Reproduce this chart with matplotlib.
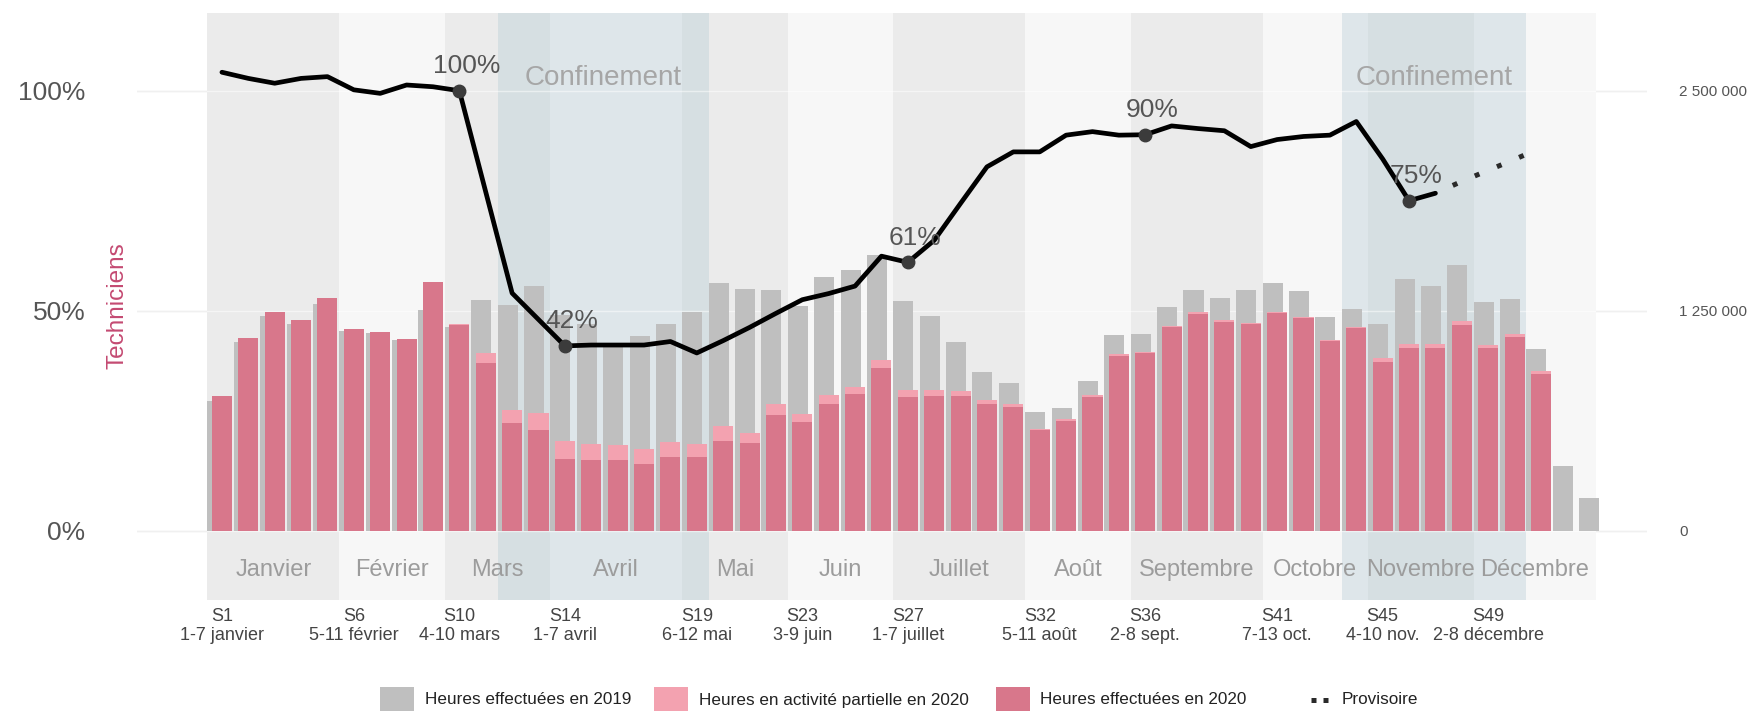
import numpy as np
import matplotlib.pyplot as plt
from matplotlib.patches import Rectangle
from matplotlib.lines import Line2D

plt.rcParams['font.family'] = ['Liberation Sans', 'DejaVu Sans']

# heures effectuees en 2019, semaines 1 a 53
heures_2019 = [737500, 1075000, 1217500, 1175000, 1290000, 1137500, 1122500, 1085000,
               1252500, 1160000, 1312500, 1280000, 1390000, 1225000, 1175000, 1047500,
               1107500, 1175000, 1240000, 1407500, 1375000, 1367500, 1275000, 1442500,
               1480000, 1565000, 1302500, 1217500, 1070000, 900000, 840000, 672500,
               697500, 850000, 1112500, 1117500, 1270000, 1370000, 1320000, 1365000,
               1407500, 1360000, 1215000, 1262500, 1175000, 1430000, 1390000, 1507500,
               1297500, 1317500, 1030000, 370000, 185000]

# heures effectuees en 2020, semaines 1 a 51
heures_2020 = [765000, 1097500, 1240000, 1195000, 1325000, 1145000, 1127500, 1087500,
               1412500, 1170000, 955000, 610000, 570000, 410000, 400000, 400000,
               380000, 417500, 417500, 510000, 497500, 657500, 617500, 722500,
               775000, 922500, 757500, 765000, 765000, 722500, 705000, 570000,
               625000, 760000, 995000, 1007500, 1157500, 1230000, 1187500, 1175000,
               1237500, 1207500, 1077500, 1150000, 960000, 1040000, 1037500, 1170000,
               1037500, 1100000, 890000]

# heures en activite partielle en 2020
partielle_2020 = [0, 0, 0, 0, 0, 0, 0, 0,
                  0, 5000, 57500, 75000, 100000, 102500, 90000, 85000,
                  85000, 87500, 72500, 82500, 57500, 60000, 45000, 47500,
                  42500, 45000, 42500, 35000, 30000, 22500, 15000, 10000,
                  10000, 10000, 10000, 10000, 7500, 10000, 7500, 7500,
                  7500, 7500, 7500, 10000, 20000, 20000, 22500, 22500,
                  17500, 17500, 20000]

# techniciens, % de l'activite (semaines 1 a 47), puis provisoire (47 a 51)
techniciens = [104.2, 102.8, 101.7, 102.8, 103.2, 100.2, 99.4, 101.3,
               100.9, 100.0, 77.0, 54.0, 48.0, 42.0, 42.2, 42.2,
               42.2, 43.0, 40.4, 43.2, 46.2, 49.4, 52.5, 53.9,
               55.6, 62.4, 61.0, 66.0, 74.4, 82.7, 86.1, 86.1,
               89.9, 90.7, 89.9, 90.0, 92.0, 91.4, 90.9, 87.3,
               88.9, 89.6, 89.9, 93.0, 84.5, 75.0, 76.7]
provisoire = [76.7, 79.4, 81.9, 84.4, 87.0]

points_cles = {10: '100%', 14: '42%', 27: '61%', 36: '90%', 46: '75%'}

mois = ['Janvier', 'Février', 'Mars', 'Avril', 'Mai', 'Juin', 'Juillet',
        'Août', 'Septembre', 'Octobre', 'Novembre', 'Décembre']
mois_limites = [0.45, 5.45, 9.45, 13.45, 18.45, 22.45, 26.45, 31.45,
                35.45, 40.45, 44.45, 48.45, 53.1]
confinements = [(11.45, 19.45), (43.45, 50.45)]

ticks_semaines = [1, 6, 10, 14, 19, 23, 27, 32, 36, 41, 45, 49]
ticks_labels = ['S1\n1-7 janvier', 'S6\n5-11 février', 'S10\n4-10 mars',
                'S14\n1-7 avril', 'S19\n6-12 mai', 'S23\n3-9 juin',
                'S27\n1-7 juillet', 'S32\n5-11 août', 'S36\n2-8 sept.',
                'S41\n7-13 oct.', 'S45\n4-10 nov.', 'S49\n2-8 décembre']

fig = plt.figure(figsize=(17.63, 7.11), dpi=100)
ax_h = fig.add_axes([0.0777, 0.1561, 0.8565, 0.8256])
ax_p = ax_h.twinx()
ax_h.yaxis.tick_right()
ax_p.yaxis.tick_left()

ax_h.set_xlim(-2.22, 55.02)
ax_p.set_ylim(-15.75, 117.66)
ax_h.set_ylim(-15.75 * 25000, 117.66 * 25000)

# bandes des mois et confinements
for i, nom in enumerate(mois):
    couleur = '#ebebeb' if i % 2 == 0 else '#f7f7f7'
    ax_h.axvspan(mois_limites[i], mois_limites[i + 1], color=couleur, lw=0, zorder=0.2)
    ax_p.text((mois_limites[i] + mois_limites[i + 1]) / 2, -10.3, nom,
              ha='center', va='baseline', fontsize=17, color='#9c9c9c')
for debut, fin in confinements:
    ax_h.axvspan(debut, fin, color='#b6ccd5', alpha=0.38, lw=0, zorder=0.3)
    ax_p.text((debut + fin) / 2, 101.3, 'Confinement', ha='center', va='baseline',
              fontsize=20, color='#a6a6a6')

for y in [0, 1250000, 2500000]:
    ax_h.axhline(y, color='#e2e2e2', lw=1, zorder=0.1)
    ax_h.axhline(y, color='white', lw=1, alpha=0.5, zorder=0.4)

s2019 = np.arange(1, len(heures_2019) + 1)
s2020 = np.arange(1, len(heures_2020) + 1)
ax_h.bar(s2019 - 0.17, heures_2019, width=0.76, color='#bfbfbf', lw=0, zorder=2)
ax_h.bar(s2020, heures_2020, width=0.76, color='#d8778b', lw=0, zorder=3)
ax_h.bar(s2020, partielle_2020, bottom=heures_2020, width=0.76, color='#f3a2b0', lw=0, zorder=3)

# courbe techniciens
ax_p.plot(np.arange(1, len(techniciens) + 1), techniciens, color='black', lw=3.4,
          solid_joinstyle='round', solid_capstyle='round', zorder=5)
ax_p.plot(np.arange(47, 47 + len(provisoire)), provisoire, color='#2a2a2a', lw=3.6,
          ls=(1.0, (1, 3.8)), dash_capstyle='butt', zorder=5)
for s, txt in points_cles.items():
    v = techniciens[s - 1]
    ax_p.plot(s, v, 'o', color='#3b3b3b', ms=9, zorder=6)
    ax_p.annotate(txt, (s, v), xytext=(5, 12.7), textcoords='offset points',
                  ha='center', va='baseline', fontsize=19, color='#555555', zorder=7)

ax_p.set_yticks([0, 50, 100], ['0%', '50%', '100%'])
ax_p.tick_params(axis='y', length=0, pad=37, labelsize=19, labelcolor='#555555')
ax_h.set_yticks([0, 1250000, 2500000], ['0', '1 250 000', '2 500 000'])
ax_h.tick_params(axis='y', length=0, pad=23, labelsize=11, labelcolor='#555555')
ax_h.set_xticks(ticks_semaines, ticks_labels)
ax_h.tick_params(axis='x', length=0, pad=6, labelsize=13, labelcolor='#444444')
for lab in ax_h.get_xticklabels():
    lab.set_linespacing(1.1)

for a in (ax_h, ax_p):
    for sp in a.spines.values():
        sp.set_visible(False)

fig.text(117 / 1763, 1 - 306 / 711, 'Techniciens', rotation=90, ha='center', va='center',
         fontsize=17.5, color='#c44a72')

# legende
W, H = 1763, 711
y_leg = 1 - 700 / H
elements = [(380, '#bfbfbf', 'Heures effectuées en 2019', 425),
            (654, '#f3a2b0', 'Heures en activité partielle en 2020', 699),
            (996, '#d8778b', 'Heures effectuées en 2020', 1040)]
for x0, c, txt, xt in elements:
    fig.add_artist(Rectangle((x0 / W, 0), 34 / W, 24 / H, transform=fig.transFigure,
                             color=c, lw=0))
    fig.text(xt / W, y_leg, txt, ha='left', va='center', fontsize=12.3, color='#222222')
fig.add_artist(Line2D([1311 / W, 1330 / W], [y_leg, y_leg], transform=fig.transFigure,
                      color='#2a2a2a', lw=3.6, ls=(0, (1, 1.4)), dash_capstyle='butt'))
fig.text(1342 / W, y_leg, 'Provisoire', ha='left', va='center', fontsize=12.3, color='#222222')

fig.savefig('out.png', dpi=100)
